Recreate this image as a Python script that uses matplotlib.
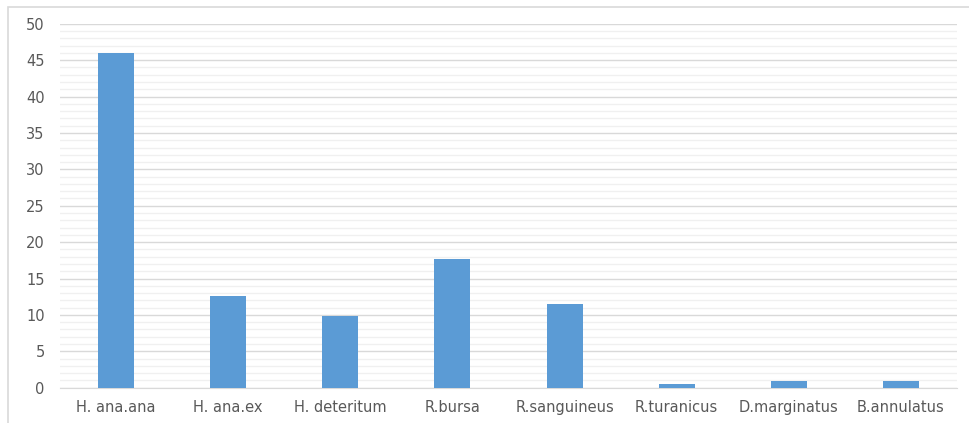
import numpy as np
import matplotlib.pyplot as plt
from matplotlib.patches import Rectangle
from matplotlib.ticker import MultipleLocator

species = ["H. ana.ana", "H. ana.ex", "H. deteritum", "R.bursa", "R.sanguineus",
           "R.turanicus", "D.marginatus", "B.annulatus"]
percent = [46, 12.6, 9.8, 17.7, 11.5, 0.5, 0.9, 0.9]

plt.rcParams['font.family'] = ['DejaVu Sans']
txt_col = '#595959'

fig = plt.figure(figsize=(9.7, 4.23), dpi=100)
# light frame around the chart area (right/bottom fall outside the image)
fig.patches.append(Rectangle((8 / 970, -0.1), 1.1, 1 - 7 / 423 + 0.1, transform=fig.transFigure,
                             fill=False, edgecolor='#d9d9d9', linewidth=1.2))

ax = fig.add_axes([60 / 970, 35.3 / 423, 897 / 970, 363.9 / 423])
x = np.arange(len(species))
ax.bar(x, percent, width=0.32, color='#5b9bd5', zorder=3)

ax.set_xlim(-0.5, len(species) - 0.5)
ax.set_ylim(0, 50)
ax.yaxis.set_major_locator(MultipleLocator(5))
ax.yaxis.set_minor_locator(MultipleLocator(1))
ax.grid(True, which='major', axis='y', color='#d9d9d9', linewidth=1.0, zorder=0)
ax.grid(True, which='minor', axis='y', color='#f0f0f0', linewidth=1.0, zorder=0)

ax.set_xticks(x)
ax.set_xticklabels(species)
ax.tick_params(axis='x', length=0, pad=9, labelsize=10.5, labelcolor=txt_col)
ax.tick_params(axis='y', which='both', length=0, pad=11, labelsize=10.5, labelcolor=txt_col)

for s in ['top', 'right', 'left']:
    ax.spines[s].set_visible(False)
ax.spines['bottom'].set_color('#d9d9d9')

fig.savefig('out.png', dpi=100)
